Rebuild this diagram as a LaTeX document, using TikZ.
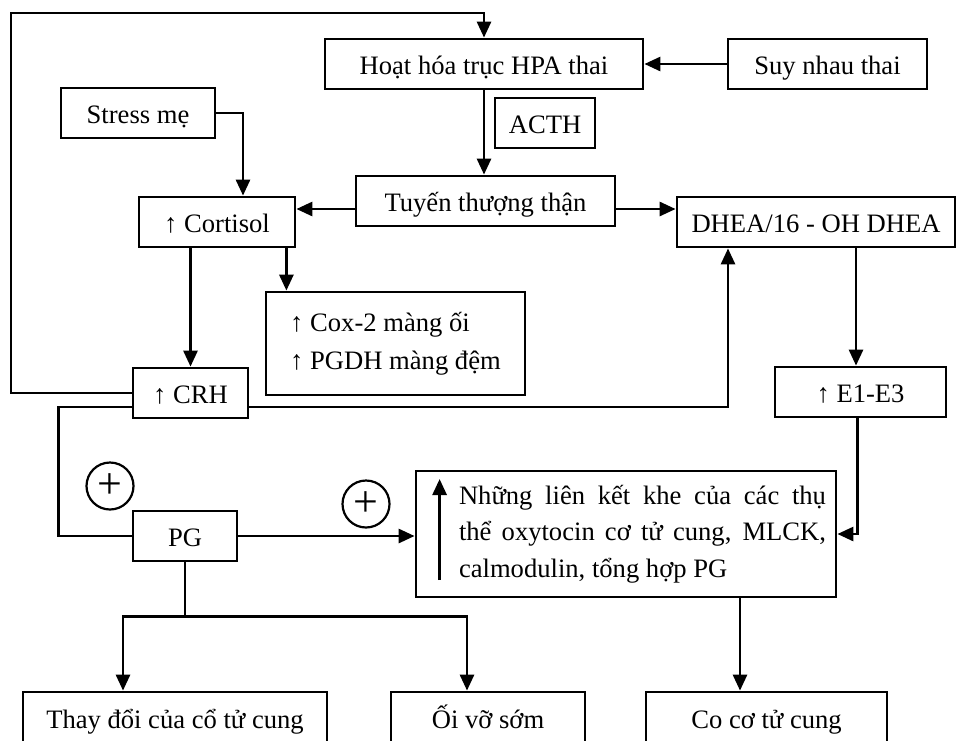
\documentclass[tikz,border=0pt]{standalone}
\usepackage{fontspec}
\setmainfont{Liberation Serif}
\usetikzlibrary{arrows.meta}

\begin{document}
\begin{tikzpicture}[x=0.5pt, y=-0.5pt, line width=1.4pt,
    >={Triangle[length=8pt, width=7pt]},
    font=\fontsize{13.3}{18.25}\selectfont,
    box/.style={draw, rectangle, minimum height=25pt, inner sep=2pt, text height=12.5pt, text depth=2.5pt},
    tallbox/.style={draw, rectangle, inner sep=2pt},
    plussign/.style={draw, circle, minimum size=23.5pt, inner sep=0pt, line width=1.1pt, font=\fontsize{22}{22}\selectfont}]
    \useasboundingbox (0, 0) rectangle (956, 740);
    \node[box, minimum width=159pt] at (484, 64) (hpa) {Hoạt hóa trục HPA thai};
    \node[box, minimum width=99.5pt] at (827.5, 64) (suy) {Suy nhau thai};
    \node[box, minimum width=50pt] at (545, 123) (acth) {ACTH};
    \node[box, minimum width=77pt] at (138, 113) (stress) {Stress mẹ};
    \node[box, minimum width=129.5pt] at (485.5, 201) (tuyen) {Tuyến thượng thận};
    \node[box, minimum width=78pt] at (217, 222) (cortisol) {↑ Cortisol};
    \node[box, minimum width=139pt] at (816, 222) (dhea) {DHEA/16 - OH DHEA};
    \node[tallbox, minimum width=129.5pt, minimum height=51.5pt, align=left] at (395.5, 343.5) (cox) {↑ Cox-2 màng ối\\[0.5pt]↑ PGDH màng đệm};
    \node[box, minimum width=57.5pt] at (190.5, 393) (crh) {↑ CRH};
    \node[box, minimum width=85.5pt] at (860.5, 392) (e13) {↑ E1-E3};
    \node[box, minimum width=52pt] at (185, 536) (pg) {PG};
    \node[tallbox, minimum width=210pt, minimum height=63pt, inner xsep=5pt] at (626, 534) (nhung)
        {\hspace*{16.5pt}\parbox{183.5pt}{Những liên kết khe của các thụ\linebreak thể oxytocin cơ tử cung, MLCK,\linebreak calmodulin, tổng hợp PG}};
    \node[box, minimum width=152pt, minimum height=26pt] at (175, 718) (thay) {Thay đổi của cổ tử cung};
    \node[box, minimum width=97pt, minimum height=26pt] at (488, 718) (oi) {Ối vỡ sớm};
    \node[box, minimum width=120.5pt, minimum height=26pt] at (766.5, 718) (co) {Co cơ tử cung};
    \node[plussign] at (110, 486) (plusa) {+};
    \node[plussign] at (366, 504) (plusb) {+};
    % feedback loop from CRH to the fetal HPA axis
    \draw[->] (crh.west) -| (11, 13) -| (hpa.north);
    \draw[->] (suy.west) -- (hpa.east);
    \draw[->] (hpa.south) -- (hpa.south |- tuyen.north);
    \draw[->] (stress.east) -| ([xshift=13pt]cortisol.north);
    \draw[->] ([yshift=-4pt]tuyen.west) -- ([yshift=-4pt]tuyen.west -| cortisol.east);
    \draw[->] ([yshift=-4pt]tuyen.east) -- ([yshift=-4pt]tuyen.east -| dhea.west);
    \draw[->] ([xshift=-5pt]cortisol.south east) -- ([xshift=-5pt]cortisol.south east |- cox.north);
    \draw[->] (crh.north |- cortisol.south) -- (crh.north);
    \draw[->] ([yshift=-7pt]crh.east) -| ([xshift=-44pt]dhea.south);
    \draw ([yshift=-7pt]crh.west) -- ++(-73, 0) |- (pg.west);
    \draw[->] ([xshift=20pt]dhea.south) -- ([xshift=20pt]dhea.south |- e13.north);
    \draw[->] ([xshift=-1.5pt]e13.south) |- (nhung.east);
    \draw[->] (pg.east) -- (pg.east -| nhung.west);
    \draw[->] ([xshift=12.5pt, yshift=-23pt]nhung.west) -- ([xshift=12.5pt, yshift=27.5pt]nhung.west);
    % PG effects
    \coordinate (fork) at ([yshift=-27pt]pg.south);
    \draw (pg.south) -- (fork);
    \draw[->] (fork) -| ([xshift=-26pt]thay.north);
    \draw[->] (fork) -| ([xshift=-10.5pt]oi.north);
    \draw[->] ([xshift=57pt]nhung.south) -- ([xshift=57pt]nhung.south |- co.north);
\end{tikzpicture}
\end{document}
